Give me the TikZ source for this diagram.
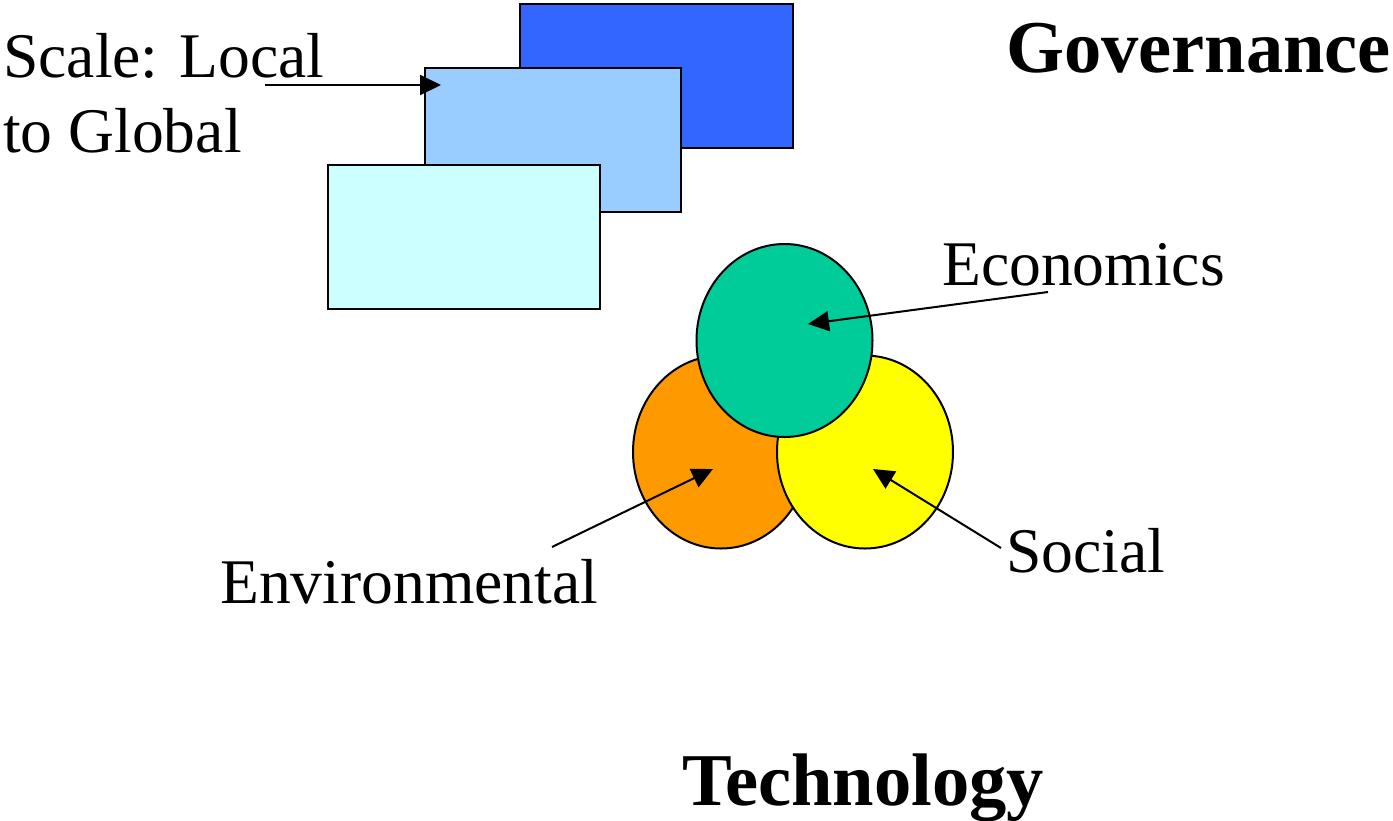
\documentclass[tikz,border=0pt]{standalone}
\usepackage{fontspec}
\setmainfont{Liberation Serif}
\usetikzlibrary{arrows.meta,shapes.geometric}
\tikzset{
  pane/.style = {draw, line width=2pt, rectangle, inner sep=0pt, minimum height=144pt},
  blob/.style = {draw, line width=2pt, ellipse, inner sep=0pt, minimum width=176pt, minimum height=193pt},
  lbl/.style = {anchor=base west, inner sep=0pt, font=\fontsize{63.6}{75}\selectfont},
  head/.style = {anchor=base west, inner sep=0pt, font=\fontsize{74.5}{80}\selectfont\bfseries},
  pointer/.style = {-{Triangle[length=21pt,width=20pt]}, line width=2pt}
}
\definecolor{deepblue}{HTML}{3366FF}
\definecolor{midblue}{HTML}{99CCFF}
\definecolor{paleblue}{HTML}{CCFFFF}
\definecolor{econgreen}{HTML}{00CC99}
\definecolor{envorange}{HTML}{FF9900}
\definecolor{socyellow}{HTML}{FFFF00}
\begin{document}
\begin{tikzpicture}[x=1pt, y=-1pt]
    \useasboundingbox (0,0) rectangle (1393,820);
    % scale panes
    \node (global) [pane, fill=deepblue, minimum width=273pt] at (656.5,76) {};
    \node (regional) [pane, fill=midblue, minimum width=256pt] at (552.5,140) {};
    \node (local) [pane, fill=paleblue, minimum width=272pt] at (464,236.5) {};
    \node (scale) [lbl] at (3,77) {Scale: Local};
    \node (toglobal) [lbl] at (3,152) {to Global};
    \coordinate (scale tail) at (265,85);
    \coordinate (scale tip) at (441,85);
    \draw [pointer] (scale tail) -- (scale tip);
    % pillars
    \node (env) [blob, fill=envorange] at (721,452) {};
    \node (soc) [blob, fill=socyellow] at (865,452) {};
    \node (econ) [blob, fill=econgreen] at (784.5,340.5) {};
    \node (econlbl) [lbl] at (942,285) {Economics};
    \node (envlbl) [lbl] at (220,603) {Environmental};
    \node (soclbl) [lbl] at (1006,572) {Social};
    \coordinate (econ tail) at (1048,292);
    \coordinate (econ tip) at (808,324);
    \coordinate (env tail) at (552,547);
    \coordinate (env tip) at (713,469);
    \coordinate (soc tail) at (1001,548);
    \coordinate (soc tip) at (873,469);
    \draw [pointer] (econ tail) -- (econ tip);
    \draw [pointer] (env tail) -- (env tip);
    \draw [pointer] (soc tail) -- (soc tip);
    % headings
    \node (gov) [head] at (1006,72) {Governance};
    \node (tech) [head] at (682,805) {Technology};
\end{tikzpicture}
\end{document}
